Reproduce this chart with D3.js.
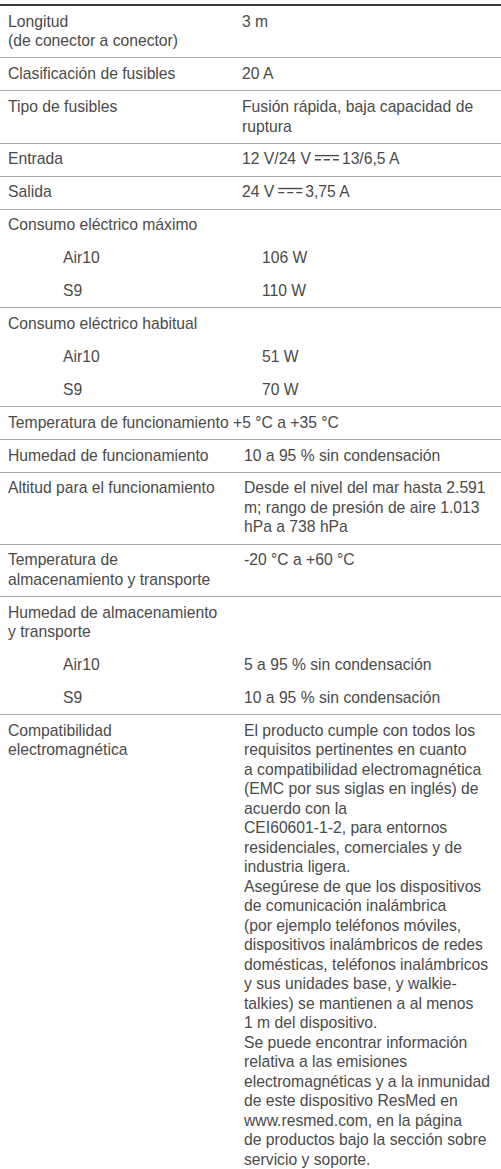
<!DOCTYPE html>
<html>
<head>
<meta charset="utf-8">
<script src="https://cdn.jsdelivr.net/npm/d3@7"></script>
<style>
  html, body { margin: 0; padding: 0; background: #ffffff; }
  svg { display: block; }
  text { font-family: "Liberation Sans", Arial, sans-serif; font-size: 15.7px; fill: #4a4a4a; }
</style>
</head>
<body>
<script>
// ---- data (text content of the specification table) ----
const groupLabels = [
  ["Longitud", "(de conector a conector)"],
  ["Clasificación de fusibles"],
  ["Tipo de fusibles"],
  ["Entrada"],
  ["Salida"],
  ["Consumo eléctrico máximo"],
  ["Consumo eléctrico habitual"],
  ["Temperatura de funcionamiento"],
  ["Humedad de funcionamiento"],
  ["Altitud para el funcionamiento"],
  ["Temperatura de", "almacenamiento y transporte"],
  ["Humedad de almacenamiento", "y transporte"],
  ["Compatibilidad", "electromagnética"]
];
const groupValues = [
  ["3 m"],
  ["20 A"],
  ["Fusión rápida, baja capacidad de", "ruptura"],
  ["12 V/24 V ⎓ 13/6,5 A"],
  ["24 V ⎓ 3,75 A"],
  [],
  [],
  ["+5 °C a +35 °C"],
  ["10 a 95 % sin condensación"],
  ["Desde el nivel del mar hasta 2.591", "m; rango de presión de aire 1.013", "hPa a 738 hPa"],
  ["-20 °C a +60 °C"],
  [],
  ["El producto cumple con todos los",
   "requisitos pertinentes en cuanto",
   "a compatibilidad electromagnética",
   "(EMC por sus siglas en inglés) de",
   "acuerdo con la",
   "CEI60601-1-2, para entornos",
   "residenciales, comerciales y de",
   "industria ligera.",
   "Asegúrese de que los dispositivos",
   "de comunicación inalámbrica",
   "(por ejemplo teléfonos móviles,",
   "dispositivos inalámbricos de redes",
   "domésticas, teléfonos inalámbricos",
   "y sus unidades base, y walkie-",
   "talkies) se mantienen a al menos",
   "1 m del dispositivo.",
   "Se puede encontrar información",
   "relativa a las emisiones",
   "electromagnéticas y a la inmunidad",
   "de este dispositivo ResMed en",
   "www.resmed.com, en la página",
   "de productos bajo la sección sobre",
   "servicio y soporte."]
];
const subLabels = [[], [], [], [], [], ["Air10", "S9"], ["Air10", "S9"], [], [], [], [], ["Air10", "S9"], []];
const subValues = [[], [], [], [], [], ["106 W", "110 W"], ["51 W", "70 W"], [], [], [], [], ["5 a 95 % sin condensación", "10 a 95 % sin condensación"], []];

// ---- layout ----
const W = 501, H = 1169;
const layout = {
  top: 5, padTop: 6.7, padBot: 6.7, lineH: 19.5, baseline: 15.0,
  labelX: 8, subLabelX: 63,
  valueX: [242, 242, 242, 242, 242, 244, 244, 233, 244, 244, 244, 244, 244],
  subValueX: [0, 0, 0, 0, 0, 262, 262, 0, 0, 0, 0, 244, 0]
};

const rows = [];
groupLabels.forEach((lab, g) => {
  rows.push({ label: lab, value: groupValues[g], lx: layout.labelX, vx: layout.valueX[g], sep: true, g });
  subLabels[g].forEach((s, j) => {
    rows.push({ label: [s], value: [subValues[g][j]], lx: layout.subLabelX, vx: layout.subValueX[g], sep: false, g });
  });
});

// vertical positions
let cursor = layout.top;
rows.forEach(r => {
  r.n = Math.max(r.label.length, r.value.length, 1);
  r.y0 = cursor;
  cursor += layout.padTop + r.n * layout.lineH + layout.padBot;
});
const lineY = d3.scaleLinear().domain([0, 1]).range([0, layout.lineH]);

const svg = d3.select("body").append("svg").attr("width", W).attr("height", H);

// separators
const seps = rows.filter(r => r.sep);
svg.selectAll("line.sep").data(seps).join("line")
  .attr("class", "sep")
  .attr("x1", 0).attr("x2", W)
  .attr("y1", (d, i) => i === 0 ? d.y0 : Math.round(d.y0) + 0.5)
  .attr("y2", (d, i) => i === 0 ? d.y0 : Math.round(d.y0) + 0.5)
  .attr("stroke", (d, i) => i === 0 ? "#3a3a3a" : "#ababab")
  .attr("stroke-width", (d, i) => i === 0 ? 2 : 1);

// text
const rowG = svg.selectAll("g.row").data(rows).join("g").attr("class", "row");
rowG.each(function (r) {
  const g = d3.select(this);
  const base = i => r.y0 + layout.padTop + lineY(i) + layout.baseline;
  g.selectAll("text.lab").data(r.label).join("text").attr("class", "lab")
    .attr("x", r.lx).attr("y", (d, i) => base(i)).text(d => d);
  r.value.forEach((v, i) => {
    const y = base(i);
    if (v.includes("⎓")) {
      const parts = v.split("⎓");
      const t1 = g.append("text").attr("x", r.vx).attr("y", y).text(parts[0].trimEnd());
      const w1 = t1.node().getComputedTextLength();
      const sx = r.vx + w1 + 4;
      const sw = 24;
      const fs = 15.7;
      g.append("line").attr("x1", sx).attr("x2", sx + sw)
        .attr("y1", y - 0.56 * fs).attr("y2", y - 0.56 * fs)
        .attr("stroke", "#4a4a4a").attr("stroke-width", 1.4);
      g.append("line").attr("x1", sx).attr("x2", sx + sw)
        .attr("y1", y - 0.3 * fs).attr("y2", y - 0.3 * fs)
        .attr("stroke", "#4a4a4a").attr("stroke-width", 1.4)
        .attr("stroke-dasharray", "6,3");
      g.append("text").attr("x", sx + sw + 3).attr("y", y).text(parts[1].trimStart());
    } else {
      g.append("text").attr("x", r.vx).attr("y", y).text(v);
    }
  });
});
</script>
</body>
</html>
